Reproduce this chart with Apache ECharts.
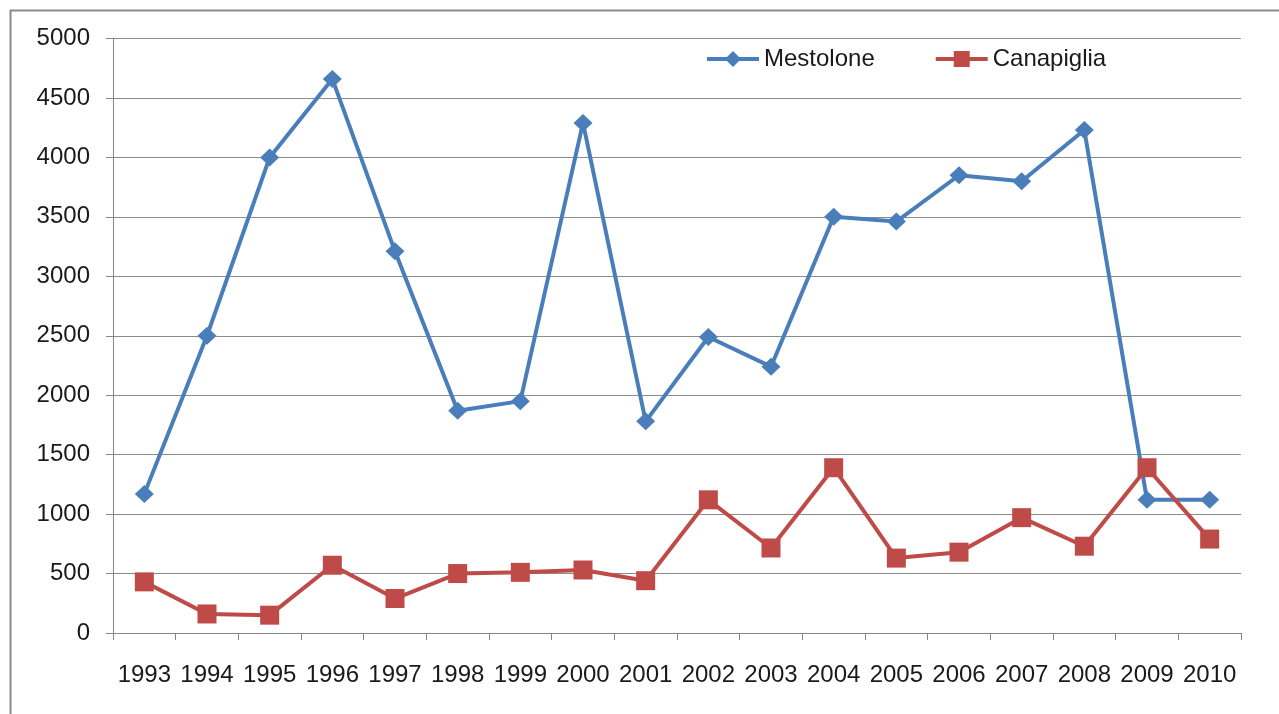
<!DOCTYPE html>
<html>
<head>
<meta charset="utf-8">
<script src="https://cdn.jsdelivr.net/npm/echarts@6/dist/echarts.min.js"></script>
<style>
html,body{margin:0;padding:0;background:#fff;}
#chart{width:1279px;height:714px;}
</style>
</head>
<body>
<div id="chart"></div>
<script>
const years = ['1993','1994','1995','1996','1997','1998','1999','2000','2001','2002','2003','2004','2005','2006','2007','2008','2009','2010'];
const mestolone = [1170,2500,4000,4660,3210,1870,1950,4290,1780,2490,2240,3500,3460,3850,3800,4230,1120,1120];
const canapiglia = [430,160,150,570,290,500,510,530,440,1120,715,1390,630,680,970,730,1390,790];
const yTicks = {min:0, max:5000, interval:500};

const FONT = 'Liberation Sans';
const chart = echarts.init(document.getElementById('chart'), null, {renderer:'canvas'});
chart.setOption({
  animation:false,
  backgroundColor:'#fff',
  textStyle:{fontFamily:FONT},
  graphic:[{type:'rect',left:8,top:8,shape:{width:1300,height:720},style:{fill:'none',stroke:'#8a8a8a',lineWidth:2},silent:true}],
  grid:{left:113,right:38,top:38.5,bottom:81,containLabel:false},
  legend:{
    top:42,left:700,itemWidth:52,itemHeight:20,itemGap:59,padding:5,
    lineStyle:{width:4},
    textStyle:{fontFamily:FONT,fontSize:24,color:'#1a1a1a'},
    data:['Mestolone','Canapiglia']
  },
  xAxis:{
    type:'category',data:years,boundaryGap:true,
    axisLine:{lineStyle:{color:'#868686',width:1}},
    axisTick:{show:true,length:7,alignWithLabel:false,lineStyle:{color:'#868686'}},
    axisLabel:{fontFamily:FONT,fontSize:24,color:'#1a1a1a',margin:30,interval:0}
  },
  yAxis:{
    type:'value',min:yTicks.min,max:yTicks.max,interval:yTicks.interval,
    axisLine:{show:true,lineStyle:{color:'#868686',width:1}},
    axisTick:{show:true,length:7,lineStyle:{color:'#868686'}},
    axisLabel:{fontFamily:FONT,fontSize:24,color:'#1a1a1a',margin:23,formatter:function(v){return String(v);}},
    splitLine:{lineStyle:{color:'#8c8c8c',width:1}}
  },
  series:[
    {name:'Mestolone',type:'line',data:mestolone,symbol:'diamond',symbolSize:[19,18],
     lineStyle:{color:'#4A7EBB',width:4},itemStyle:{color:'#4A7EBB'}},
    {name:'Canapiglia',type:'line',data:canapiglia,symbol:'rect',symbolSize:19,
     lineStyle:{color:'#BE4B48',width:4},itemStyle:{color:'#BE4B48'}}
  ]
});
</script>
</body>
</html>
